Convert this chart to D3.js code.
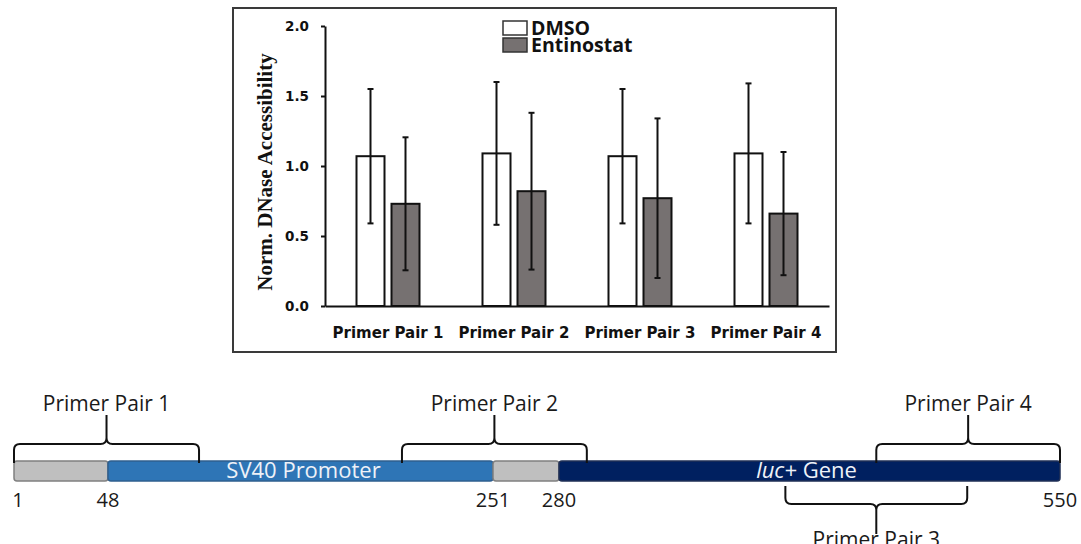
<!DOCTYPE html>
<html>
<head>
<meta charset="utf-8">
<script src="https://cdn.jsdelivr.net/npm/d3@7"></script>
<style>
  body { margin: 0; background: #fff; }
  svg { display: block; }
</style>
</head>
<body>
<div id="root"></div>
<script>
const width = 1081;
const height = 544;

// bar chart data
const primers = ['Primer Pair 1', 'Primer Pair 2', 'Primer Pair 3', 'Primer Pair 4'];
const seriesNames = ['DMSO', 'Entinostat'];
const dmsoMean = [1.07, 1.09, 1.07, 1.09];
const dmsoErr = [0.48, 0.51, 0.48, 0.50];
const entMean = [0.73, 0.82, 0.77, 0.66];
const entErr = [0.475, 0.56, 0.57, 0.44];
const yTicks = [0, 0.5, 1.0, 1.5, 2.0];

// construct diagram data (positions in bp)
const siteLabels = [1, 48, 251, 280, 550];
const segments = [
  { name: '', start: 1, end: 48, kind: 'spacer' },
  { name: 'SV40 Promoter', start: 48, end: 251, kind: 'promoter' },
  { name: '', start: 251, end: 280, kind: 'spacer' },
  { name: 'luc+ Gene', start: 280, end: 550, kind: 'gene' },
];
const primerSpans = [
  { label: 'Primer Pair 1', start: 1, end: 96, side: 'top' },
  { label: 'Primer Pair 2', start: 203, end: 295, side: 'top' },
  { label: 'Primer Pair 3', start: 402, end: 500, side: 'bottom' },
  { label: 'Primer Pair 4', start: 451, end: 550, side: 'top' },
];

const segFill = { spacer: '#bfbfbf', promoter: '#2e75b6', gene: '#002060' };
const segStroke = { spacer: '#808080', promoter: '#2f5f8f', gene: '#1f2f55' };

const svg = d3.select('#root')
  .append('svg')
  .attr('width', width)
  .attr('height', height);

// ---- bar chart ----
svg.append('rect')
  .attr('x', 233).attr('y', 8)
  .attr('width', 603).attr('height', 344)
  .attr('fill', 'none')
  .attr('stroke', '#3a3a3a')
  .attr('stroke-width', 2);

const y = d3.scaleLinear().domain([0, 2]).range([306, 26]);
const x0 = d3.scaleBand().domain(primers).range([325, 829]);
const x1 = d3.scaleBand().domain(seriesNames)
  .range([x0.bandwidth() * 0.25, x0.bandwidth() * 0.75])
  .paddingInner(0.2);

const rows = [];
primers.forEach((p, i) => {
  rows.push({ primer: p, series: 'DMSO', mean: dmsoMean[i], err: dmsoErr[i] });
  rows.push({ primer: p, series: 'Entinostat', mean: entMean[i], err: entErr[i] });
});
const fill = d3.scaleOrdinal().domain(seriesNames).range(['#ffffff', '#767171']);

const yAxis = svg.append('g')
  .attr('transform', `translate(${x0.range()[0]},0)`)
  .call(d3.axisLeft(y).tickValues(yTicks).tickFormat(d3.format('.1f'))
    .tickSize(4).tickSizeOuter(0).tickPadding(12));
yAxis.select('.domain').attr('stroke', '#111').attr('stroke-width', 2);
yAxis.selectAll('.tick line').attr('stroke', '#111').attr('stroke-width', 2);
yAxis.selectAll('.tick text')
  .attr('font-family', 'DejaVu Sans, Verdana, sans-serif')
  .attr('font-weight', 'bold')
  .attr('font-size', 13.5)
  .attr('fill', '#111');

svg.append('text')
  .attr('transform', `translate(272,${(y(0) + y(2)) / 2 + 6}) rotate(-90)`)
  .attr('text-anchor', 'middle')
  .attr('font-family', 'Liberation Serif, Times New Roman, serif')
  .attr('font-weight', 'bold')
  .attr('font-size', 21)
  .attr('fill', '#111')
  .text('Norm. DNase Accessibility');

const bars = svg.append('g')
  .selectAll('g')
  .data(rows)
  .join('g')
  .attr('transform', d => `translate(${x0(d.primer) + x1(d.series)},0)`);

bars.append('rect')
  .attr('x', 0)
  .attr('y', d => y(d.mean))
  .attr('width', x1.bandwidth())
  .attr('height', d => y(0) - y(d.mean))
  .attr('fill', d => fill(d.series))
  .attr('stroke', '#111')
  .attr('stroke-width', 2);

const cx = x1.bandwidth() / 2;
bars.append('line')
  .attr('x1', cx).attr('x2', cx)
  .attr('y1', d => y(d.mean + d.err))
  .attr('y2', d => y(d.mean - d.err))
  .attr('stroke', '#111').attr('stroke-width', 2);
bars.selectAll('line.cap')
  .data(d => [d.mean + d.err, d.mean - d.err])
  .join('line')
  .attr('class', 'cap')
  .attr('x1', cx - 3).attr('x2', cx + 3)
  .attr('y1', v => y(v)).attr('y2', v => y(v))
  .attr('stroke', '#111').attr('stroke-width', 2);

const xAxis = svg.append('g')
  .attr('transform', `translate(0,${y(0)})`)
  .call(d3.axisBottom(x0).tickSize(0).tickSizeOuter(0).tickPadding(21));
xAxis.select('.domain').attr('stroke', '#111').attr('stroke-width', 2);
xAxis.selectAll('.tick text')
  .attr('font-family', 'DejaVu Sans, Verdana, sans-serif')
  .attr('font-weight', 'bold')
  .attr('font-size', 15)
  .attr('fill', '#111');

// legend
const legend = svg.append('g')
  .selectAll('g')
  .data(seriesNames)
  .join('g')
  .attr('transform', (d, i) => `translate(503,${21 + i * 17})`);
legend.append('rect')
  .attr('width', 24).attr('height', 14)
  .attr('fill', d => fill(d))
  .attr('stroke', '#333').attr('stroke-width', 1.5);
legend.append('text')
  .attr('x', 28).attr('y', 14)
  .attr('font-family', 'Open Sans, sans-serif')
  .attr('font-weight', 'bold')
  .attr('font-size', 19.5)
  .attr('fill', '#111')
  .text(d => d);

// ---- construct diagram ----
const bp = d3.scaleLinear().domain(siteLabels).range([14, 108, 493, 559, 1060]);
const barTop = 461;
const barH = 20;

const seg = svg.append('g')
  .selectAll('g')
  .data(segments)
  .join('g');
seg.append('rect')
  .attr('x', d => bp(d.start))
  .attr('y', barTop)
  .attr('width', d => bp(d.end) - bp(d.start))
  .attr('height', barH)
  .attr('rx', 3)
  .attr('fill', d => segFill[d.kind])
  .attr('stroke', d => segStroke[d.kind])
  .attr('stroke-width', 1.5);
seg.filter(d => d.name).append('text')
  .attr('x', d => (bp(d.start) + bp(d.end)) / 2 + (d.kind === 'gene' ? -3 : 3))
  .attr('y', barTop + 17)
  .attr('text-anchor', 'middle')
  .attr('font-family', 'Open Sans, sans-serif')
  .attr('font-size', 22)
  .attr('fill', '#eef2f8')
  .each(function (d) {
    const t = d3.select(this);
    if (d.name.startsWith('luc+')) {
      t.append('tspan').attr('font-style', 'italic').text('luc+');
      t.append('tspan').text(d.name.slice(4));
    } else {
      t.text(d.name);
    }
  });

svg.append('g')
  .selectAll('text')
  .data(siteLabels)
  .join('text')
  .attr('x', (d, i) => bp(d) + (i === 0 ? 4 : 0))
  .attr('y', 507)
  .attr('text-anchor', 'middle')
  .attr('font-family', 'Open Sans, sans-serif')
  .attr('font-size', 20)
  .attr('fill', '#1a1a1a')
  .text(d => d);

function bracePath(xa, xb, yEnd, yLine, yTip) {
  const s = Math.sign(yEnd - yLine);
  const r = 6;
  const xm = (xa + xb) / 2;
  return `M${xa},${yEnd} L${xa},${yLine + s * r} Q${xa},${yLine} ${xa + r},${yLine}` +
    ` L${xm - r},${yLine} Q${xm},${yLine} ${xm},${yLine - s * r} L${xm},${yTip}` +
    ` M${xm},${yLine - s * r} Q${xm},${yLine} ${xm + r},${yLine}` +
    ` L${xb - r},${yLine} Q${xb},${yLine} ${xb},${yLine + s * r} L${xb},${yEnd}`;
}

const braces = svg.append('g')
  .selectAll('g')
  .data(primerSpans)
  .join('g');
braces.append('path')
  .attr('d', d => d.side === 'top'
    ? bracePath(bp(d.start), bp(d.end), 463, 444, 415)
    : bracePath(bp(d.start), bp(d.end), 486, 504, 534))
  .attr('fill', 'none')
  .attr('stroke', '#111')
  .attr('stroke-width', 2);
braces.append('text')
  .attr('x', d => (bp(d.start) + bp(d.end)) / 2)
  .attr('y', d => d.side === 'top' ? 411 : 547)
  .attr('text-anchor', 'middle')
  .attr('font-family', 'Open Sans, sans-serif')
  .attr('font-size', 21)
  .attr('fill', '#1a1a1a')
  .text(d => d.label);
</script>
</body>
</html>
